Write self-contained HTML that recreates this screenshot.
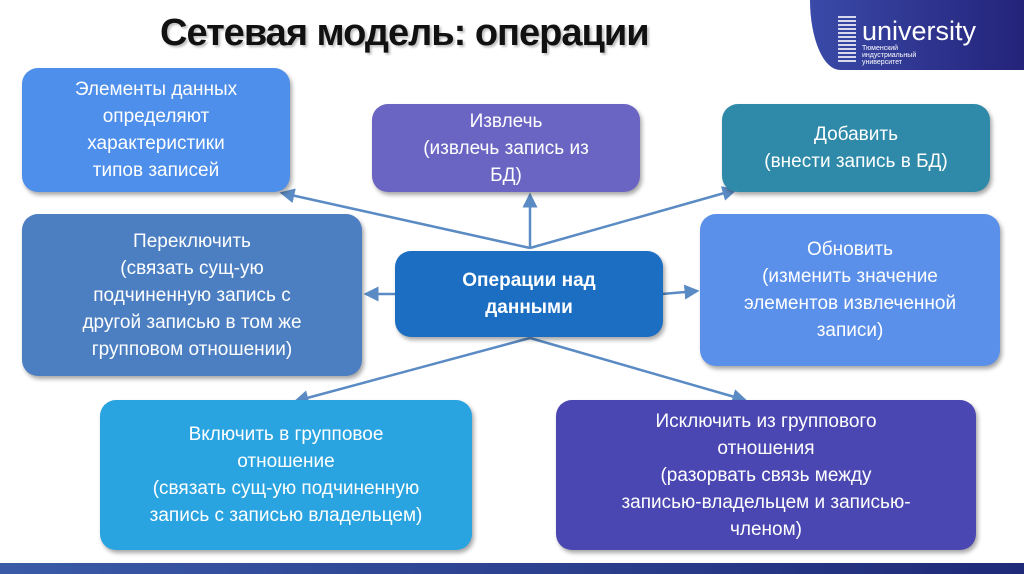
<!DOCTYPE html>
<html><head><meta charset="utf-8"><style>
body{margin:0;width:1024px;height:574px;background:#fff;position:relative;overflow:hidden;font-family:"Liberation Sans","DejaVu Sans",sans-serif}
.b{position:absolute;border-radius:16px;color:#fff;display:flex;align-items:center;justify-content:center;text-align:center;font-size:19px;line-height:27px;box-shadow:2px 3px 4px rgba(0,0,0,.35)}
h1{position:absolute;left:160px;top:12px;margin:0;font-size:38px;font-weight:bold;color:#111;letter-spacing:-1px;text-shadow:2px 2px 2px rgba(0,0,0,.25)}
</style></head><body>
<div style="position:absolute;left:810px;top:0;width:214px;height:70px;background:linear-gradient(90deg,#3a4aa8,#24237a);border-bottom-left-radius:30px 70px"></div>
<div style="position:absolute;left:838px;top:14px;width:18px;height:48px;background:repeating-linear-gradient(0deg,#fff 0 2px,transparent 2px 4px);opacity:.8"></div>
<div style="position:absolute;left:862px;top:16px;color:#fff;font-size:27px;line-height:30px">university</div>
<div style="position:absolute;left:862px;top:45px;color:#fff;font-size:7px;line-height:7px">Тюменский<br>индустриальный<br>университет</div>
<h1>Сетевая модель: операции</h1>
<svg style="position:absolute;left:0;top:0" width="1024" height="574">
<defs><marker id="a" markerWidth="6" markerHeight="6" refX="5" refY="3" orient="auto"><path d="M0,0L6,3L0,6z" fill="#5b8bc4"/></marker></defs>
<g stroke="#5b8bc4" stroke-width="2.5" fill="none" marker-end="url(#a)">
<line x1="530" y1="248" x2="282" y2="193"/>
<line x1="530" y1="248" x2="530" y2="195"/>
<line x1="530" y1="248" x2="735" y2="190"/>
<line x1="396" y1="294" x2="366" y2="294"/>
<line x1="662" y1="294" x2="697" y2="291"/>
<line x1="530" y1="338" x2="296" y2="401"/>
<line x1="530" y1="338" x2="745" y2="400"/>
</g></svg>
<div class="b" style="left:22px;top:68px;width:268px;height:124px;background:#4d8fea">Элементы данных<br>определяют<br>характеристики<br>типов записей</div>
<div class="b" style="left:372px;top:104px;width:268px;height:88px;background:#6a65c2">Извлечь<br>(извлечь запись из<br>БД)</div>
<div class="b" style="left:722px;top:104px;width:268px;height:88px;background:#2f8aa9">Добавить<br>(внести запись в БД)</div>
<div class="b" style="left:22px;top:214px;width:340px;height:162px;background:#4c7fc2">Переключить<br>(связать сущ-ую<br>подчиненную запись с<br>другой записью в том же<br>групповом отношении)</div>
<div class="b" style="left:395px;top:251px;width:268px;height:86px;background:#1b6ec2;font-weight:bold">Операции над<br>данными</div>
<div class="b" style="left:700px;top:214px;width:300px;height:152px;background:#5a90ea">Обновить<br>(изменить значение<br>элементов извлеченной<br>записи)</div>
<div class="b" style="left:100px;top:400px;width:372px;height:150px;background:#2aa4e0">Включить в групповое<br>отношение<br>(связать сущ-ую подчиненную<br>запись с записью владельцем)</div>
<div class="b" style="left:556px;top:400px;width:420px;height:150px;background:#4b47b2">Исключить из группового<br>отношения<br>(разорвать связь между<br>записью-владельцем и записью-<br>членом)</div>
<div style="position:absolute;left:0;top:563px;width:1024px;height:11px;background:linear-gradient(90deg,#3a5aa8,#1f2a78)"></div>
</body></html>
